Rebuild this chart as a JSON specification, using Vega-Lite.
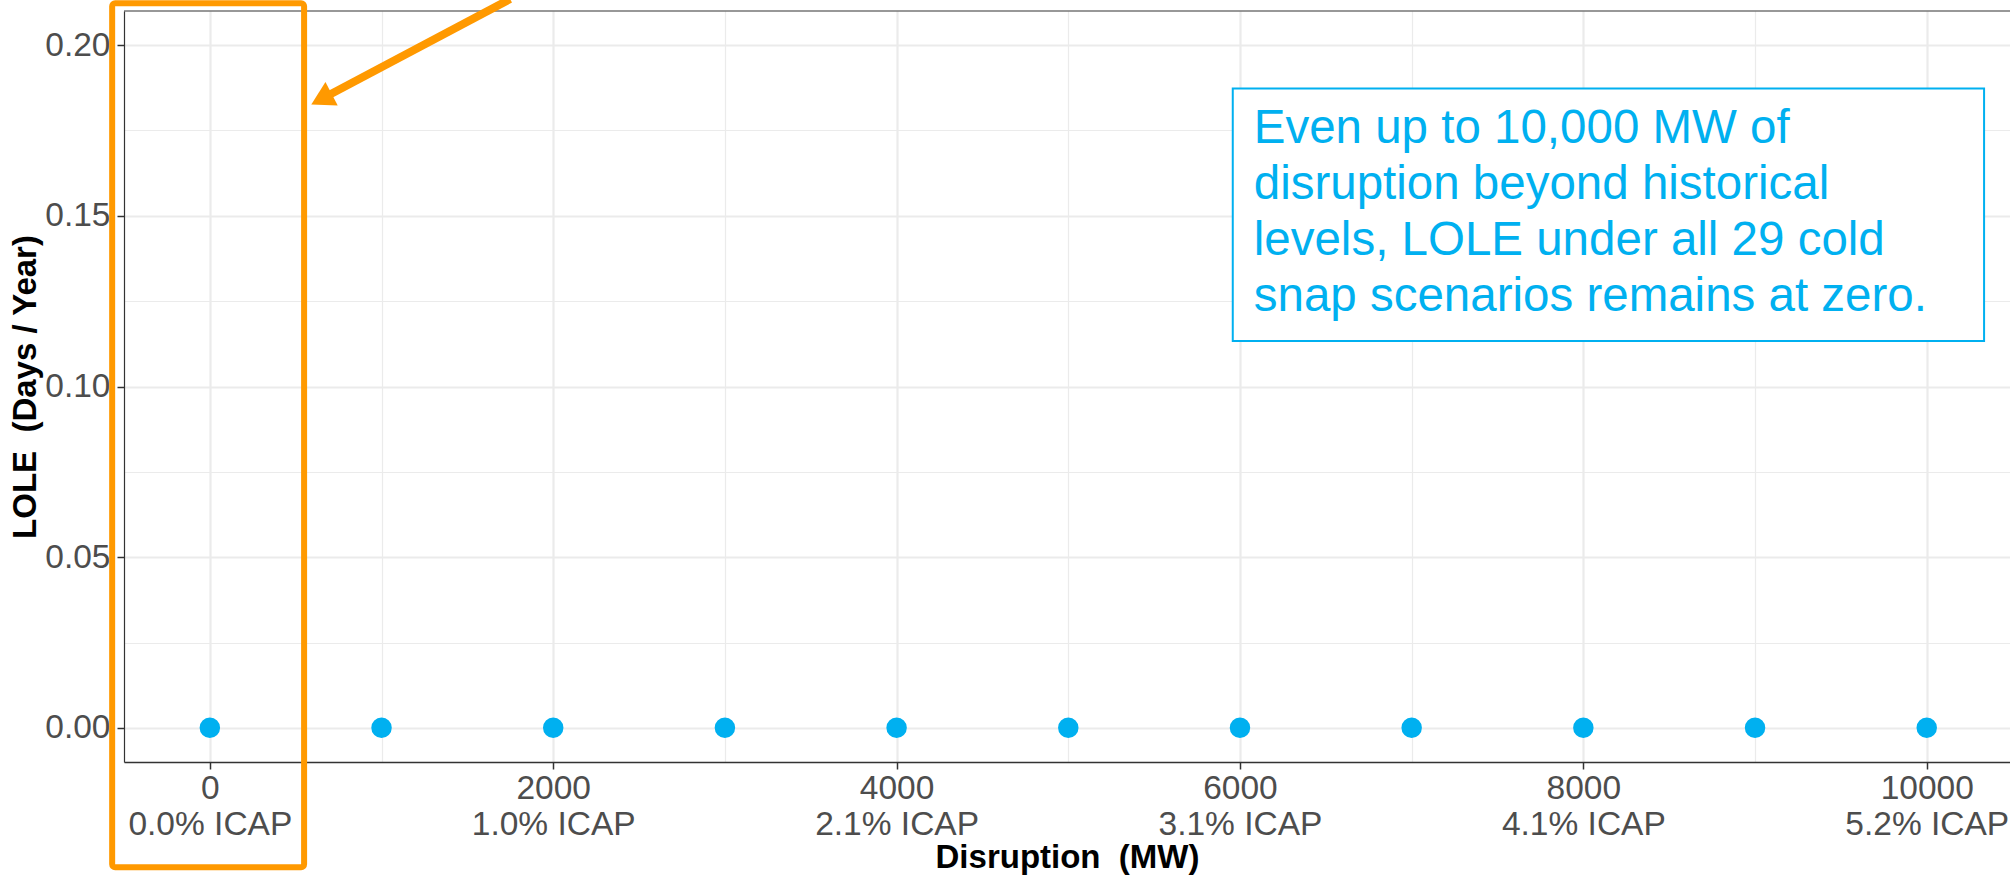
{
  "$schema": "https://vega.github.io/schema/vega-lite/v6.json",
  "width": 1886,
  "height": 751,
  "autosize": {"type": "none"},
  "padding": {"left": 124, "top": 11, "right": 0, "bottom": 117},
  "background": "white",
  "config": {
    "font": "Liberation Sans",
    "view": {"stroke": null},
    "axis": {
      "labelFont": "Liberation Sans",
      "titleFont": "Liberation Sans",
      "labelColor": "#4D4D4D",
      "labelFontSize": 33.5,
      "titleFontSize": 33,
      "titleFontWeight": "bold",
      "titleColor": "#000000",
      "tickColor": "#333333",
      "tickWidth": 1.5,
      "tickSize": 7,
      "domainColor": "#333333",
      "gridColor": "#EBEBEB",
      "labelOverlap": false,
      "labelFlush": false,
      "labelBound": false
    }
  },
  "datasets": {
    "lole": [
      {"disruption_mw": 0, "lole_days_per_year": 0},
      {"disruption_mw": 1000, "lole_days_per_year": 0},
      {"disruption_mw": 2000, "lole_days_per_year": 0},
      {"disruption_mw": 3000, "lole_days_per_year": 0},
      {"disruption_mw": 4000, "lole_days_per_year": 0},
      {"disruption_mw": 5000, "lole_days_per_year": 0},
      {"disruption_mw": 6000, "lole_days_per_year": 0},
      {"disruption_mw": 7000, "lole_days_per_year": 0},
      {"disruption_mw": 8000, "lole_days_per_year": 0},
      {"disruption_mw": 9000, "lole_days_per_year": 0},
      {"disruption_mw": 10000, "lole_days_per_year": 0}
    ],
    "highlight": [{"x_start": -569, "x_end": 549, "y_top": 0.2123, "y_bottom": -0.0408}],
    "arrow": [{"x_from": 1749, "y_from": 0.2135, "x_to": 650, "y_to": 0.1842}],
    "note_box": [{"x_start": 5958, "x_end": 10334, "y_top": 0.1873, "y_bottom": 0.1133}],
    "note_text": [{"x": 6080, "y": 0.1712, "lines": ["Even up to 10,000 MW of", "disruption beyond historical", "levels, LOLE under all 29 cold", "snap scenarios remains at zero."]}]
  },
  "layer": [
    {
      "data": {"name": "lole"},
      "mark": {"type": "point", "filled": true, "size": 420, "color": "#00B0F0", "opacity": 1},
      "encoding": {
        "x": {
          "field": "disruption_mw", "type": "quantitative",
          "scale": {"domain": [-500, 10485], "nice": false, "zero": false},
          "axis": {
            "title": "Disruption\u00a0 (MW)",
            "values": [0, 1000, 2000, 3000, 4000, 5000, 6000, 7000, 8000, 9000, 10000],
            "format": "d",
            "labelExpr": "datum.value % 2000 == 0 ? [datum.label, ['0.0','1.0','2.1','3.1','4.1','5.2'][datum.value/2000] + '% ICAP'] : ''",
            "labelBaseline": "top",
            "labelLineHeight": 36,
            "labelPadding": 3.5,
            "titlePadding": 0,
            "domainWidth": 1.5,
            "tickOpacity": {"condition": {"test": "datum.value % 2000 == 0", "value": 1}, "value": 0},
            "gridWidth": {"condition": {"test": "datum.value % 2000 == 0", "value": 2.2}, "value": 1.2}
          }
        },
        "y": {
          "field": "lole_days_per_year", "type": "quantitative",
          "scale": {"domain": [-0.01, 0.21], "nice": false, "zero": false},
          "axis": {
            "title": "LOLE\u00a0 (Days / Year)",
            "values": [0, 0.025, 0.05, 0.075, 0.1, 0.125, 0.15, 0.175, 0.2],
            "labelExpr": "round(datum.value*1000) % 50 == 0 ? format(datum.value, '.2f') : ''",
            "labelPadding": 7,
            "titlePadding": 2,
            "domainWidth": 1.2,
            "tickOpacity": {"condition": {"test": "round(datum.value*1000) % 50 == 0", "value": 1}, "value": 0},
            "gridWidth": {"condition": {"test": "round(datum.value*1000) % 50 == 0", "value": 2.2}, "value": 1.2}
          }
        }
      }
    },
    {
      "data": {"values": [{}]},
      "mark": {"type": "rule", "color": "#333333", "strokeWidth": 1.2},
      "encoding": {
        "y": {"datum": 0.21, "type": "quantitative", "scale": {"domain": [-0.01, 0.21], "nice": false, "zero": false}}
      }
    },
    {
      "data": {"name": "note_box"},
      "mark": {"type": "rect", "fill": "white", "stroke": "#00B0F0", "strokeWidth": 2},
      "encoding": {
        "x": {"field": "x_start", "type": "quantitative", "scale": {"domain": [-500, 10485], "nice": false, "zero": false}},
        "x2": {"field": "x_end"},
        "y": {"field": "y_top", "type": "quantitative", "scale": {"domain": [-0.01, 0.21], "nice": false, "zero": false}},
        "y2": {"field": "y_bottom"}
      }
    },
    {
      "data": {"name": "note_text"},
      "mark": {"type": "text", "align": "left", "baseline": "alphabetic", "fontSize": 47.5, "lineHeight": 56, "color": "#00B0F0", "font": "Liberation Sans"},
      "encoding": {
        "x": {"field": "x", "type": "quantitative", "scale": {"domain": [-500, 10485], "nice": false, "zero": false}},
        "y": {"field": "y", "type": "quantitative", "scale": {"domain": [-0.01, 0.21], "nice": false, "zero": false}},
        "text": {"field": "lines"}
      }
    },
    {
      "data": {"name": "highlight"},
      "mark": {"type": "rect", "fill": null, "fillOpacity": 0, "stroke": "#FF9900", "strokeWidth": 6, "cornerRadius": 3, "clip": false},
      "encoding": {
        "x": {"field": "x_start", "type": "quantitative", "scale": {"domain": [-500, 10485], "nice": false, "zero": false}},
        "x2": {"field": "x_end"},
        "y": {"field": "y_top", "type": "quantitative", "scale": {"domain": [-0.01, 0.21], "nice": false, "zero": false}},
        "y2": {"field": "y_bottom"}
      }
    },
    {
      "data": {"name": "arrow"},
      "mark": {"type": "rule", "color": "#FF9900", "strokeWidth": 8, "clip": false},
      "encoding": {
        "x": {"field": "x_from", "type": "quantitative", "scale": {"domain": [-500, 10485], "nice": false, "zero": false}},
        "x2": {"field": "x_to"},
        "y": {"field": "y_from", "type": "quantitative", "scale": {"domain": [-0.01, 0.21], "nice": false, "zero": false}},
        "y2": {"field": "y_to"}
      }
    },
    {
      "data": {"name": "arrow"},
      "mark": {"type": "point", "shape": "triangle-up", "filled": true, "size": 700, "angle": 242.4, "color": "#FF9900", "opacity": 1, "clip": false},
      "encoding": {
        "x": {"field": "x_to", "type": "quantitative", "scale": {"domain": [-500, 10485], "nice": false, "zero": false}},
        "y": {"field": "y_to", "type": "quantitative", "scale": {"domain": [-0.01, 0.21], "nice": false, "zero": false}}
      }
    }
  ]
}
